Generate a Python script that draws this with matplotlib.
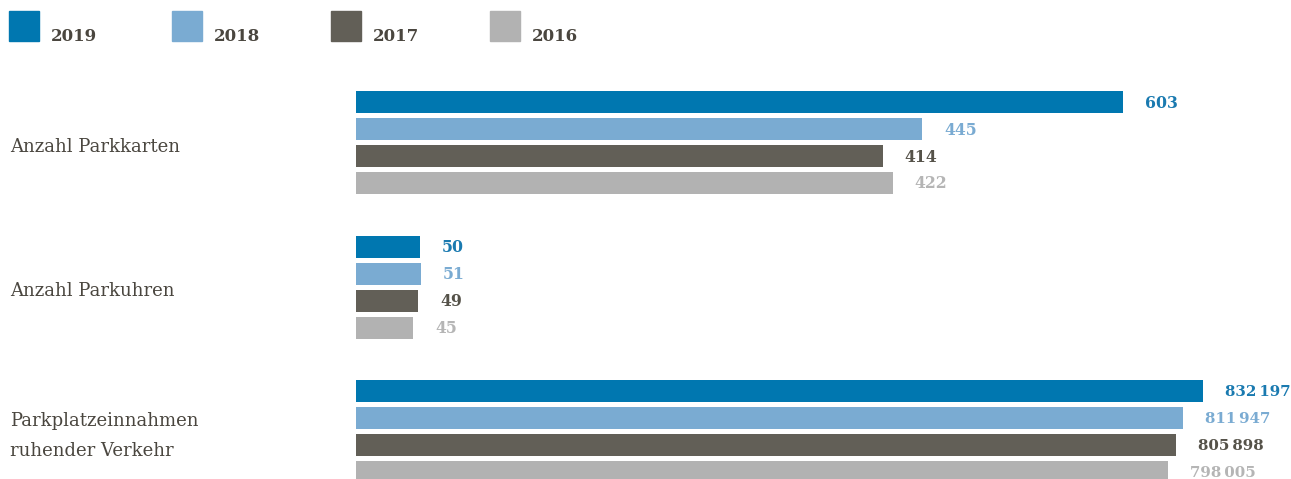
import matplotlib
matplotlib.use("Agg")
import matplotlib.pyplot as plt
from matplotlib.patches import Rectangle

# Data
years = ["2019", "2018", "2017", "2016"]
categories = ["Anzahl Parkkarten", "Anzahl Parkuhren", "Parkplatzeinnahmen\nruhender Verkehr"]
parkkarten = [603, 445, 414, 422]
parkuhren = [50, 51, 49, 45]
einnahmen = [832197, 811947, 805898, 798005]

bar_colors = ["#0077b0", "#7aabd2", "#625f57", "#b2b2b2"]
text_colors = ["#1a7ab0", "#7aabd2", "#555249", "#b5b5b5"]
label_color = "#4a463f"

W, H = 1291, 479
fig = plt.figure(figsize=(W / 100, H / 100), dpi=100)
plt.rcParams["font.family"] = ["DejaVu Serif"]

# x-extent of each group's axes in data units (first two share a scale)
groups = [parkkarten, parkuhren, einnahmen]
xmax = [735, 735, 918500]
first_center = [102, 246.5, 391]
num_size = [11.3, 11.3, 10.8]
pitch = 27
x0 = 356


def fmt(v):
    return f"{v:,}".replace(",", "\u2009")


for g, vals in enumerate(groups):
    top = first_center[g] - pitch / 2
    bottom = top + pitch * 4
    ax = fig.add_axes([x0 / W, 1 - bottom / H, (W - x0) / W, (bottom - top) / H])
    ax.set_xlim(0, xmax[g])
    ax.set_ylim(3.5, -0.5)
    ax.axis("off")
    ax.barh(range(4), vals, height=22 / pitch, color=bar_colors, clip_on=False)
    off = 22 * xmax[g] / (W - x0)
    for i, v in enumerate(vals):
        ax.text(v + off, i + 5.5 / pitch, fmt(v), color=text_colors[i], fontsize=num_size[g],
                fontweight="bold", va="baseline", ha="left")
    # category label, one text per line
    lines = categories[g].split("\n")
    mid = top + pitch * 2
    base = mid + 9 - 15 * (len(lines) - 1)
    for k, line in enumerate(lines):
        fig.text(10 / W, 1 - (base + 30 * k) / H, line, color=label_color,
                 fontsize=13, va="baseline", ha="left")

# legend
leg_x = [9, 172, 331, 490]
for i, yr in enumerate(years):
    fig.patches.append(Rectangle((leg_x[i] / W, 1 - 41 / H), 30 / W, 30 / H,
                                 transform=fig.transFigure, color=bar_colors[i]))
    fig.text((leg_x[i] + 42) / W, 1 - 41 / H, yr, color=label_color, fontsize=12,
             fontweight="bold", va="baseline", ha="left")

fig.savefig("out.png", dpi=100)
